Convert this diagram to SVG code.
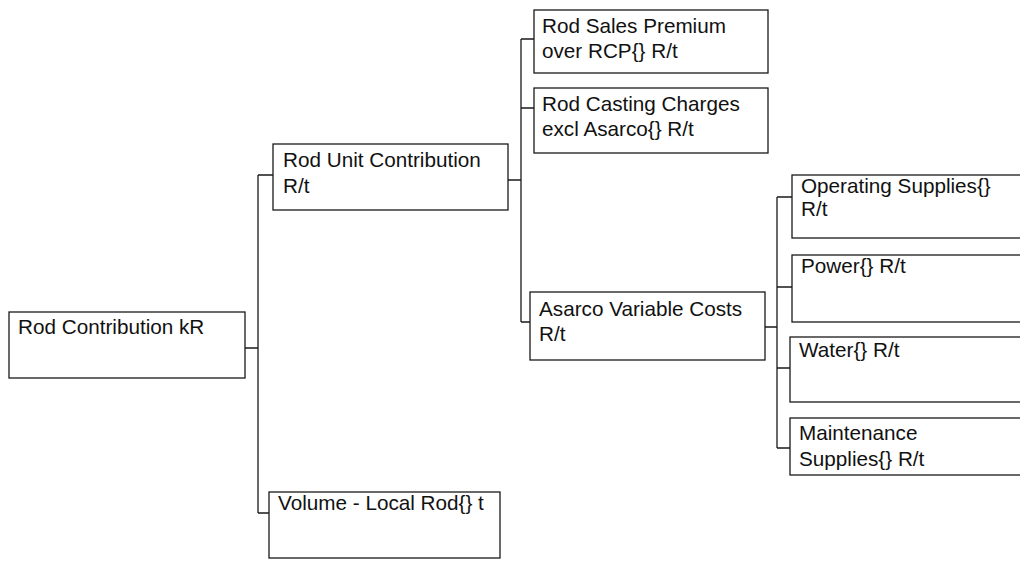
<svg xmlns="http://www.w3.org/2000/svg" width="1020" height="561" viewBox="0 0 1020 561">
<style>
.box{fill:#fff;stroke:#1a1a1a;stroke-width:1.3}
.lbl{font-family:"Liberation Sans",Arial,sans-serif;font-size:20.7px;fill:#111}
.con{fill:none;stroke:#1a1a1a;stroke-width:1.3}
</style>
<rect width="1020" height="561" fill="#fff"/>
<g id="connectors">
<path class="con" d="M245,348 H258 M258,175 V513 M258,175 H273 M258,513 H269"/>
<path class="con" d="M508,180 H521 M521,39 V322 M521,39 H534 M521,108 H534 M521,322 H530"/>
<path class="con" d="M765,327 H777 M777,197 V448 M777,197 H792 M777,287 H792 M777,368 H790 M777,448 H790"/>
</g>
<g id="n1"><rect class="box" x="9" y="312" width="236" height="66"/><text class="lbl" x="18" y="334">Rod Contribution kR</text></g>
<g id="n2"><rect class="box" x="273" y="144" width="235" height="66"/><text class="lbl" x="283" y="167">Rod Unit Contribution</text><text class="lbl" x="283" y="193">R/t</text></g>
<g id="n3"><rect class="box" x="269" y="492" width="231" height="66"/><text class="lbl" x="278" y="510">Volume - Local Rod{} t</text></g>
<g id="n4"><rect class="box" x="534" y="10" width="234" height="63"/><text class="lbl" x="542" y="33">Rod Sales Premium</text><text class="lbl" x="542" y="58">over RCP{} R/t</text></g>
<g id="n5"><rect class="box" x="534" y="88" width="234" height="65"/><text class="lbl" x="542" y="111">Rod Casting Charges</text><text class="lbl" x="542" y="136">excl Asarco{} R/t</text></g>
<g id="n6"><rect class="box" x="530" y="292" width="235" height="68"/><text class="lbl" x="539" y="316">Asarco Variable Costs</text><text class="lbl" x="539" y="341">R/t</text></g>
<g id="n7"><rect class="box" x="792" y="175" width="240" height="63"/><text class="lbl" x="801" y="193">Operating Supplies{}</text><text class="lbl" x="801" y="216">R/t</text></g>
<g id="n8"><rect class="box" x="792" y="255" width="240" height="67"/><text class="lbl" x="801" y="273">Power{} R/t</text></g>
<g id="n9"><rect class="box" x="790" y="337" width="240" height="65"/><text class="lbl" x="799" y="357">Water{} R/t</text></g>
<g id="n10"><rect class="box" x="790" y="418" width="240" height="57"/><text class="lbl" x="799" y="440">Maintenance</text><text class="lbl" x="799" y="466">Supplies{} R/t</text></g>
</svg>
